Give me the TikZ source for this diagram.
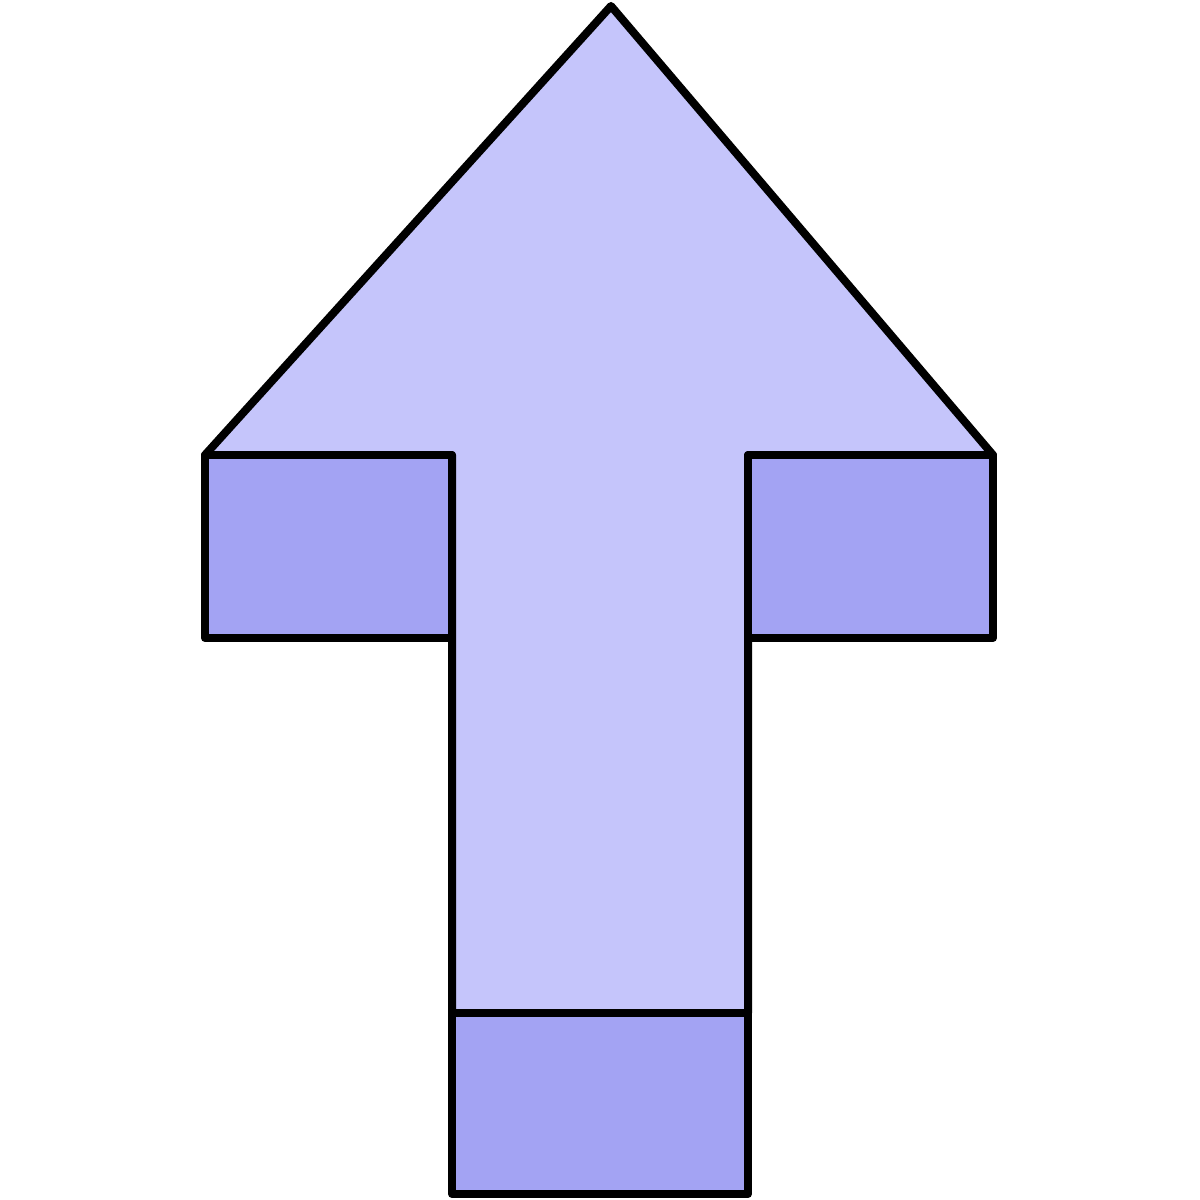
\documentclass[tikz,border=0pt]{standalone}
\usepackage{tikz}
\usepackage{xcolor}
\definecolor{headblue}{RGB}{197,197,251}
\definecolor{boxblue}{RGB}{163,163,243}

\begin{document}
\begin{tikzpicture}[x=0.01cm,y=-0.01cm,line width=0.08cm,line join=round]
 \useasboundingbox (0,0) rectangle (1200,1200);
 \pgfmathsetmacro{\sl}{452}
  \pgfmathsetmacro{\sr}{748}
  \pgfmathsetmacro{\wy}{455}

  % arrow head and stem
  \draw[fill=headblue] (611,6) -- (993,\wy) -- (\sr,\wy) -- (\sr,1013)
   -- (\sl,1013) -- (\sl,\wy) -- (205,\wy) -- cycle;

  % the three boxes
  \draw[fill=boxblue] (205,\wy) -- ++(\sl-205,0) -- ++(0,183) -- ++(205-\sl,0) -- cycle;
  \draw[fill=boxblue] (\sr,\wy) -- ++(993-\sr,0) -- ++(0,183) -- ++(\sr-993,0) -- cycle;
  \draw[fill=boxblue] (\sl,1013) -- ++(\sr-\sl,0) -- ++(0,181) -- ++(\sl-\sr,0) -- cycle;
\end{tikzpicture}
\end{document}
